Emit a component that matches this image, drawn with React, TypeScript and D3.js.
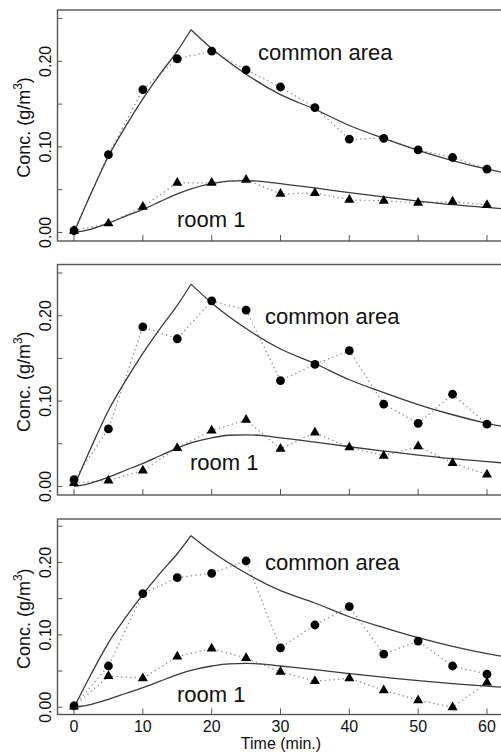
import React from "react";
import * as d3 from "d3";

// ---- data ----
const times = [0, 5, 10, 15, 20, 25, 30, 35, 40, 45, 50, 55, 60];

const p1Common = [0.002, 0.091, 0.167, 0.203, 0.212, 0.19, 0.17, 0.146, 0.109, 0.11, 0.0965, 0.0876, 0.074];
const p1Room = [0.002, 0.0105, 0.03, 0.058, 0.058, 0.0616, 0.045, 0.046, 0.038, 0.037, 0.0345, 0.036, 0.032];

const p2Common = [0.008, 0.0674, 0.187, 0.173, 0.2174, 0.2066, 0.124, 0.143, 0.159, 0.0965, 0.074, 0.108, 0.073];
const p2Room = [0.004, 0.007, 0.0186, 0.045, 0.0655, 0.078, 0.044, 0.063, 0.0457, 0.036, 0.047, 0.0275, 0.014];

const p3Common = [0.002, 0.057, 0.157, 0.179, 0.185, 0.202, 0.082, 0.1136, 0.139, 0.0734, 0.0914, 0.057, 0.0457];
const p3Room = [0.001, 0.043, 0.04, 0.07, 0.081, 0.068, 0.049, 0.036, 0.04, 0.0235, 0.0097, 0.0, 0.034];

// fitted model curves (same in every panel)
const riseTimes = [0, 2.5, 5, 7.5, 10, 12.5, 15, 17];
const riseCommon = [0, 0.046, 0.089, 0.124, 0.156, 0.185, 0.212, 0.237];
const fallTimes = [17, 20, 25, 30, 35, 40, 45, 50, 55, 60, 62.4];
const fallCommon = [0.237, 0.215, 0.185, 0.161, 0.144, 0.125, 0.11, 0.096, 0.084, 0.074, 0.07];
const roomTimes = [0, 2.5, 5, 7.5, 10, 12.5, 15, 17, 20, 22.5, 25, 27.5, 30, 35, 40, 45, 50, 55, 60, 62.4];
const roomModel = [0, 0.004, 0.011, 0.019, 0.027, 0.036, 0.045, 0.051, 0.057, 0.06, 0.0605, 0.0595, 0.057, 0.052, 0.0465, 0.0415, 0.0367, 0.0325, 0.0292, 0.0275];

const yTicks = [0, 0.05, 0.1, 0.15, 0.2, 0.25];
const yTickLabels = ["0.00", "", "0.10", "", "0.20", ""];
const xTicks = [0, 10, 20, 30, 40, 50, 60];
const xTickLabels = ["0", "10", "20", "30", "40", "50", "60"];

const commonLabel = "common area";
const roomLabel = "room 1";
const yTitle = "Conc.  (g/m";
const xTitle = "Time (min.)";

const panelCommon = [p1Common, p2Common, p3Common];
const panelRoom = [p1Room, p2Room, p3Room];

// ---- layout ----
const W = 501;
const H = 756;
const FONT = "'Liberation Sans', Arial, Helvetica, sans-serif";
const panelBox = [
  { top: 10, bottom: 241, common: [258, 60], room: [177, 226.5] },
  { top: 264.5, bottom: 495, common: [265, 324], room: [190, 470] },
  { top: 519, bottom: 714.5, common: [265, 570], room: [177, 701.5] },
];

const x = d3.scaleLinear().domain([-2.4, 62.4]).range([57.5, 503.5]);

function Panel({ idx }: { idx: number }) {
  const box = panelBox[idx];
  const y = d3.scaleLinear().domain([-0.01, 0.26]).range([box.bottom, box.top]);
  const line = d3
    .line<[number, number]>()
    .x((d) => x(d[0]))
    .y((d) => y(d[1]));
  const smooth = d3
    .line<[number, number]>()
    .x((d) => x(d[0]))
    .y((d) => y(d[1]))
    .curve(d3.curveMonotoneX);

  const common = times.map((t, i) => [t, panelCommon[idx][i]] as [number, number]);
  const room = times.map((t, i) => [t, panelRoom[idx][i]] as [number, number]);
  const rise = riseTimes.map((t, i) => [t, riseCommon[i]] as [number, number]);
  const fall = fallTimes.map((t, i) => [t, fallCommon[i]] as [number, number]);
  const rm = roomTimes.map((t, i) => [t, roomModel[i]] as [number, number]);

  const tri = d3.symbol().type(d3.symbolTriangle).size(44)();
  const clipId = `clip${idx}`;
  const left = x.range()[0];
  const right = x.range()[1];
  const isLast = idx === 2;
  const midY = (box.top + box.bottom) / 2 + 2;

  return (
    <g>
      <defs>
        <clipPath id={clipId}>
          <rect x={left} y={box.top} width={right - left} height={box.bottom - box.top} />
        </clipPath>
      </defs>
      <g clipPath={`url(#${clipId})`}>
        {/* dotted data lines */}
        <path d={line(common) || ""} fill="none" stroke="#8a8a8a" strokeWidth={1.3} strokeDasharray="1.3,3.2" />
        <path d={line(room) || ""} fill="none" stroke="#8a8a8a" strokeWidth={1.3} strokeDasharray="1.3,3.2" />
        {/* model curves */}
        <path d={smooth(rise) || ""} fill="none" stroke="#3a3a3a" strokeWidth={1.3} />
        <path d={smooth(fall) || ""} fill="none" stroke="#3a3a3a" strokeWidth={1.3} />
        <path d={smooth(rm) || ""} fill="none" stroke="#3a3a3a" strokeWidth={1.3} />
        {/* markers */}
        {common.map((d, i) => (
          <circle key={`c${i}`} cx={x(d[0])} cy={y(d[1])} r={4.4} fill="#000" />
        ))}
        {room.map((d, i) => (
          <path key={`t${i}`} d={tri || ""} transform={`translate(${x(d[0])},${y(d[1])})`} fill="#000" />
        ))}
      </g>
      {/* frame */}
      <rect x={left} y={box.top} width={right - left} height={box.bottom - box.top} fill="none" stroke="#555" strokeWidth={1.4} />
      {/* y ticks (inward) */}
      {yTicks.map((v, i) => (
        <g key={`yt${i}`}>
          <line x1={left} x2={left + 5} y1={y(v)} y2={y(v)} stroke="#555" strokeWidth={1} />
          {yTickLabels[i] && (
            <text
              transform={`translate(${50.5},${y(v)}) rotate(-90)`}
              textAnchor="middle"
              fontFamily={FONT}
              fontSize={16}
              fill="#111"
            >
              {yTickLabels[i]}
            </text>
          )}
        </g>
      ))}
      {/* x ticks (inward) */}
      {xTicks.map((v, i) => (
        <g key={`xt${i}`}>
          <line x1={x(v)} x2={x(v)} y1={box.bottom} y2={box.bottom - 6} stroke="#555" strokeWidth={1} />
          {isLast && (
            <text x={x(v)} y={731.5} textAnchor="middle" fontFamily={FONT} fontSize={16} fill="#111">
              {xTickLabels[i]}
            </text>
          )}
        </g>
      ))}
      {/* y title */}
      <text transform={`translate(30,${midY}) rotate(-90)`} textAnchor="middle" fontFamily={FONT} fontSize={18} fill="#111">
        {yTitle}
        <tspan fontSize={12} dy={-8}>3</tspan>
        <tspan dy={8}>)</tspan>
      </text>
      {/* series labels */}
      <text x={box.common[0]} y={box.common[1]} fontFamily={FONT} fontSize={22} fill="#111">
        {commonLabel}
      </text>
      <text x={box.room[0]} y={box.room[1]} fontFamily={FONT} fontSize={22} fill="#111">
        {roomLabel}
      </text>
    </g>
  );
}

export default function App() {
  return (
    <svg width={W} height={H} style={{ position: "absolute", left: 0, top: 0, background: "#fff" }}>
      <rect x={0} y={0} width={W} height={H} fill="#fff" />
      {[0, 1, 2].map((i) => (
        <Panel key={i} idx={i} />
      ))}
      <text x={281} y={749} textAnchor="middle" fontFamily={FONT} fontSize={16} fill="#111">
        {xTitle}
      </text>
    </svg>
  );
}
